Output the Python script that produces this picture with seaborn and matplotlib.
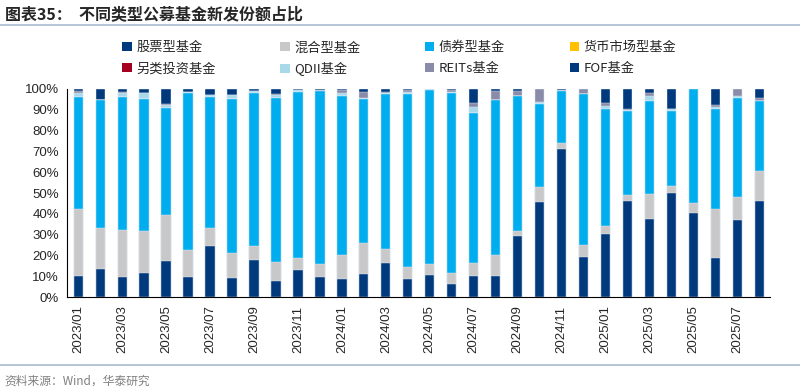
import numpy as np
import pandas as pd
import matplotlib
matplotlib.use("Agg")
import matplotlib.pyplot as plt
from matplotlib.patches import Patch
from matplotlib.lines import Line2D
import seaborn as sns

# 月份 2023/01 - 2025/08
months = [f"{y}/{m:02d}" for y in (2023, 2024, 2025) for m in range(1, 13)][:32]

# 各类型新发份额占比(%)
stock = [10.3, 13.5, 9.8, 11.7, 17.6, 9.5, 24.8, 9.3, 17.8, 7.9, 13.0, 9.8, 8.5, 11.2, 16.5, 8.7,
         10.6, 6.3, 10.1, 10.1, 29.2, 45.8, 71.2, 19.1, 30.3, 46.3, 37.7, 49.8, 40.5, 18.6, 37.2, 46.3]
mixed = [32.0, 19.7, 22.6, 20.2, 21.7, 13.1, 8.4, 12.0, 6.9, 8.9, 5.6, 6.1, 11.7, 14.6, 6.4, 5.7,
         5.4, 5.2, 6.4, 10.1, 2.8, 6.9, 2.7, 5.9, 4.0, 2.7, 11.7, 3.4, 4.5, 23.9, 10.7, 14.3]
bond = [53.7, 61.4, 63.9, 63.3, 51.7, 75.6, 62.8, 73.7, 73.5, 79.0, 80.0, 83.1, 76.6, 69.4, 74.7, 83.2,
        83.5, 86.7, 72.1, 74.5, 64.8, 40.1, 25.1, 72.4, 56.1, 40.6, 45.0, 36.4, 55.0, 47.9, 47.9, 33.8]
money = [0.0] * 32
alt = [0.0] * 32
qdii = [2.0, 0.0, 1.7, 3.0, 1.3, 0.5, 1.3, 2.1, 0.7, 1.2, 0.8, 0.0, 1.1, 0.6, 0.6, 1.0,
        0.5, 0.2, 2.6, 0.0, 0.0, 0.8, 0.0, 0.2, 1.4, 0.4, 2.2, 0.8, 0.0, 0.8, 0.8, 0.0]
reits = [1.0, 0.0, 0.7, 0.0, 0.5, 0.0, 0.0, 0.0, 0.0, 0.8, 0.0, 0.7, 1.6, 2.6, 0.5, 0.8,
         0.0, 1.0, 2.1, 4.3, 2.1, 6.4, 0.5, 2.4, 1.3, 0.2, 1.6, 0.0, 0.0, 1.1, 3.4, 1.3]
fof = [1.0, 5.4, 1.3, 1.8, 7.2, 1.3, 2.7, 2.9, 1.1, 2.2, 0.6, 0.3, 0.5, 1.6, 1.3, 0.6,
       0.0, 0.6, 6.7, 1.0, 1.1, 0.0, 0.5, 0.0, 6.9, 9.8, 1.8, 9.6, 0.0, 7.7, 0.0, 4.3]

names = ["股票型基金", "混合型基金", "债券型基金", "货币市场型基金",
         "另类投资基金", "QDII基金", "REITs基金", "FOF基金"]
series = [stock, mixed, bond, money, alt, qdii, reits, fof]
colors = ["#003A7D", "#C8C8C8", "#00AEEF", "#FFC000",
          "#A50021", "#A8D8EA", "#8A8BA8", "#003A7D"]

sns.set_style("white")
plt.rcParams['font.family'] = ['Liberation Sans', 'Noto Sans CJK SC', 'DejaVu Sans']
cjk = ['Noto Sans CJK SC', 'DejaVu Sans']

fig = plt.figure(figsize=(8, 3.92), dpi=100)
ax = fig.add_axes([0.084, 0.242, 0.879, 0.531])

# 累计值, 从顶层往下画, 实现堆叠
df = pd.DataFrame(dict(zip(names, series)), index=months)
cum = df.cumsum(axis=1)
for name, c in reversed(list(zip(names, colors))):
    sns.barplot(x=months, y=cum[name].values, color=c, width=0.42,
                saturation=1, ax=ax, edgecolor="#E6EEF6", linewidth=0.3)

ax.set_xlim(-0.5, 31.5)
ax.set_ylim(0, 100)
ax.set_yticks(np.arange(0, 101, 10))
ax.set_yticklabels([f"{v}%" for v in range(0, 101, 10)], fontsize=9.5)
ax.set_xticks(range(0, 32, 2))
ax.set_xticklabels(months[::2], rotation=90, fontsize=9.5)
ax.set_xticks(np.arange(-0.5, 32, 2), minor=True)
ax.tick_params(axis="x", which="major", length=0, pad=6)
ax.tick_params(axis="x", which="minor", length=4, width=0.8, direction="out", color="black")
ax.tick_params(axis="y", length=4, width=0.8, direction="out", color="black", pad=2)
for s in ["top", "right"]:
    ax.spines[s].set_visible(False)
for s in ["left", "bottom"]:
    ax.spines[s].set_color("black")
    ax.spines[s].set_linewidth(0.8)
ax.set_xlabel("")
ax.set_ylabel("")

# 图例按行排列(matplotlib 按列填充, 所以重新排序)
order = [0, 4, 1, 5, 2, 6, 3, 7]
handles = [Patch(facecolor=colors[i], edgecolor="none") for i in order]
labels = [names[i] for i in order]
fig.legend(handles, labels, loc="upper left", bbox_to_anchor=(0.138, 0.925), ncol=4,
           frameon=False, handlelength=0.7, handleheight=0.7, handletextpad=0.35,
           columnspacing=4.9, labelspacing=0.6, prop={"family": cjk, "size": 9.5})

# 标题与来源
fig.text(0.006, 0.965, "图表35：  不同类型公募基金新发份额占比", family=cjk,
         fontsize=11.5, fontweight="bold", va="center")
fig.add_artist(Line2D([0.0, 1.0], [0.935, 0.935], color="#A9BCD0", linewidth=1.2))
fig.add_artist(Line2D([0.0, 1.0], [0.068, 0.068], color="#A9BCD0", linewidth=1.2))
fig.text(0.006, 0.028, "资料来源：Wind，华泰研究", family=cjk, fontsize=8.5,
         color="#808080", va="center")

fig.savefig("out.png", dpi=100)
